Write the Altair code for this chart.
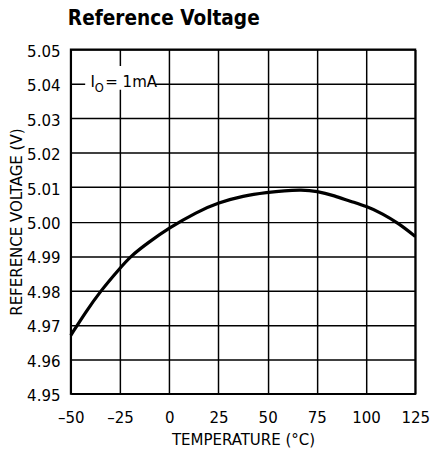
import altair as alt
import pandas as pd

# Data
temp = [-50, -42.5, -35, -25, -19.5, -11, 0, 14, 25, 37.5, 50, 58.5, 67, 75,
        84, 92, 100, 108.5, 116.5, 125]
volt = [4.967, 4.9737, 4.9798, 4.9865, 4.990, 4.9938, 4.9982, 5.0028, 5.0055, 5.0075,
        5.0085, 5.009, 5.0092, 5.0089, 5.0075, 5.0059, 5.0045, 5.0023, 4.9995, 4.9957]

x_ticks = [-50, -25, 0, 25, 50, 75, 100, 125]
y_ticks = [4.95, 4.96, 4.97, 4.98, 4.99, 5.00, 5.01, 5.02, 5.03, 5.04, 5.05]

# annotation "I_O = 1mA" (data coordinates)
box_x = [-42.7]
box_x2 = [-7.1]
box_y = [5.0452]
box_y2 = [5.0383]
note_parts = ["I", "O", "= 1mA"]
note_x = [-40.0, -37.9, -32.5]
note_y = [5.0391, 5.0375, 5.0391]
note_size = [17, 13, 17]

FONT = "DejaVu Sans Condensed"

df = pd.DataFrame({"T": temp, "V": volt})
box_df = pd.DataFrame({"x": box_x, "x2": box_x2, "y": box_y, "y2": box_y2})
note_df = pd.DataFrame({"t": note_parts, "x": note_x, "y": note_y, "s": note_size})

xscale = alt.Scale(domain=[-50, 125], nice=False, zero=False)
yscale = alt.Scale(domain=[4.95, 5.05], nice=False, zero=False)

xaxis = alt.Axis(
    values=x_ticks, grid=True, gridColor="black", gridWidth=1.5, gridOpacity=1,
    ticks=False, tickSize=0, domain=False, labelFont=FONT, labelFontSize=17,
    labelColor="black", labelPadding=16, labelOverlap=False, labelFlush=False,
    labelExpr="datum.value < 0 ? '\u2013' + abs(datum.value) : '' + datum.value",
    title="TEMPERATURE (°C)", titleFont=FONT, titleFontSize=17, titleFontWeight="normal",
    titleColor="black", titleBaseline="alphabetic", titleX=175.5, titleY=52,
    titleAlign="center",
)
yaxis = alt.Axis(
    values=y_ticks, grid=True, gridColor="black", gridWidth=1.5, gridOpacity=1,
    ticks=False, tickSize=0, domain=False, format=".2f", labelFont=FONT, labelFontSize=17,
    labelColor="black", labelPadding=11, labelOffset=2, labelFlush=False, labelOverlap=False,
    title="REFERENCE VOLTAGE (V)", titleFont=FONT, titleFontSize=17, titleFontWeight="normal",
    titleColor="black", titleBaseline="alphabetic", titleX=-50, titleY=175.5,
    titleAlign="center", titleAngle=270,
)

XT = "TEMPERATURE (°C)"
YT = "REFERENCE VOLTAGE (V)"

line = alt.Chart(df).mark_line(color="black", strokeWidth=3.3, interpolate="basis").encode(
    x=alt.X("T:Q", scale=xscale, axis=xaxis, title=XT),
    y=alt.Y("V:Q", scale=yscale, axis=yaxis, title=YT),
)

box = alt.Chart(box_df).mark_rect(color="white", opacity=1).encode(
    x=alt.X("x:Q", scale=xscale, axis=xaxis, title=XT), x2="x2",
    y=alt.Y("y:Q", scale=yscale, axis=yaxis, title=YT), y2="y2",
)

note = alt.Chart(note_df).mark_text(
    align="left", baseline="alphabetic", font=FONT, color="black"
).encode(
    x=alt.X("x:Q", scale=xscale, axis=xaxis, title=XT),
    y=alt.Y("y:Q", scale=yscale, axis=yaxis, title=YT),
    text="t:N",
    size=alt.Size("s:Q", scale=None, legend=None),
)

chart = alt.layer(line, box, note).properties(
    width=351, height=351,
    autosize=alt.AutoSizeParams(type="none"),
    padding={"left": 64, "top": 38, "right": 15, "bottom": 53},
    title=alt.TitleParams(
        "Reference Voltage", anchor="start", frame="group", font=FONT, fontSize=21,
        fontWeight="bold", color="black", offset=14, dx=-3,
    ),
).configure(background="white").configure_view(stroke="black", strokeWidth=2)

chart.save("out.html", embed_options={"renderer": "svg", "actions": False})
